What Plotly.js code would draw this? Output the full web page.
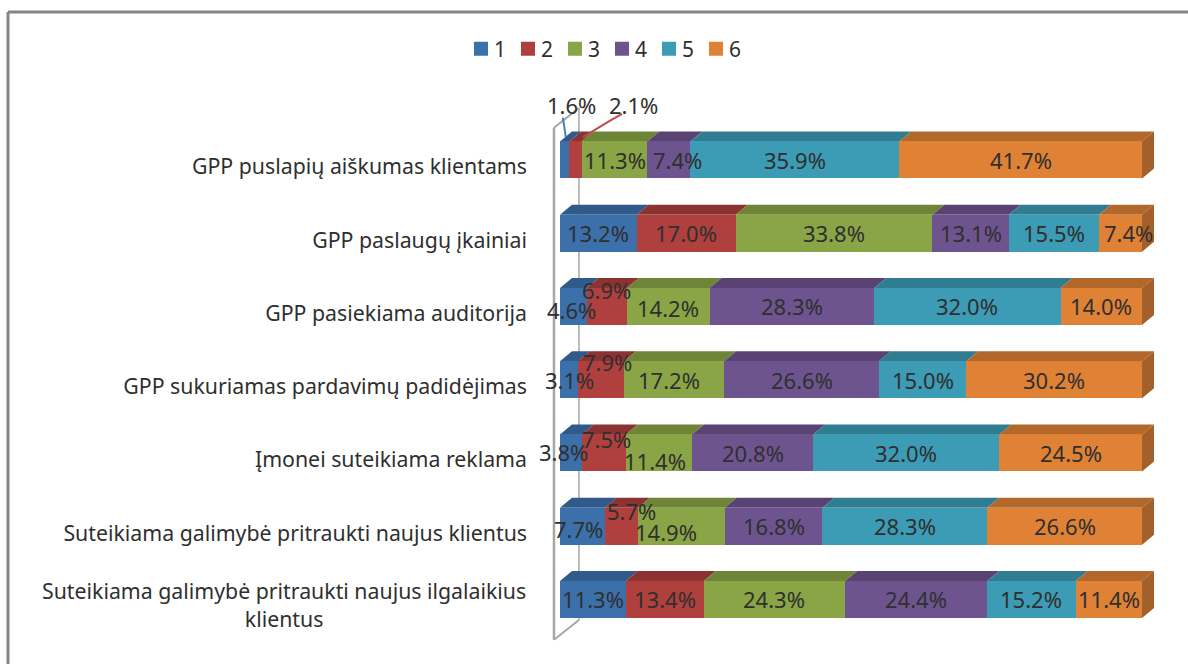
<!DOCTYPE html>
<html><head><meta charset="utf-8">
<script src="https://cdn.plot.ly/plotly-3.0.1.min.js"></script>
<style>html,body{margin:0;padding:0;background:#fff;overflow:hidden}</style>
</head><body><div id="chart" style="width:1188px;height:664px"></div>
<script>
// ---- data -------------------------------------------------------------
const categories = [
  "GPP puslapių aiškumas klientams",
  "GPP paslaugų įkainiai",
  "GPP pasiekiama auditorija",
  "GPP sukuriamas pardavimų padidėjimas",
  "Įmonei suteikiama reklama",
  "Suteikiama galimybė pritraukti naujus klientus",
  "Suteikiama galimybė pritraukti naujus ilgalaikius<br>klientus"
];
const seriesNames = ["1","2","3","4","5","6"];
const series1 = [1.6,13.2,4.6,3.1,3.8,7.7,11.3];
const series2 = [2.1,17.0,6.9,7.9,7.5,5.7,13.4];
const series3 = [11.3,33.8,14.2,17.2,11.4,14.9,24.3];
const series4 = [7.4,13.1,28.3,26.6,20.8,16.8,24.4];
const series5 = [35.9,15.5,32.0,15.0,32.0,28.3,15.2];
const series6 = [41.7,7.4,14.0,30.2,24.5,26.6,11.4];
const allSeries = [series1,series2,series3,series4,series5,series6];

// ---- styling ----------------------------------------------------------
const frontColors = ["#3B70AB","#B0403D","#8AA545","#6E548F","#3C9BB5","#DF8236"];
const topColors   = ["#2F5A8A","#8C3230","#6E8437","#584372","#307C91","#B2682B"];
const sideColor = "#A4602A";
const wallColor = "#A6A6A6";
const frameColor = "#858585";
const textColor = "#2f2f2f";
const fontFamily = "'Noto Sans', sans-serif";

const W = 1188, H = 664;
const plotL = 548, plotR = 1160, plotT = 100, plotB = 650;
const xRange = [-2.06, 103.09];
const yRange = [6.69, -0.819];
const barFrac = 0.505;
const depthX = 2.06, depthY = 0.137;   // bar depth, in axis units
const wallNear = -1.03, wallFar = 3.26; // wall x, in axis units
const wallTop = -0.71, wallBot = 6.28, wallDepthY = 0.27;
const tickLabelDrop = 7 / 73.25;        // category labels sit slightly under the bar centre

// label nudges in px: [series, row, dx, dy]
const labelNudges = [
 [0,0,7,-55],[1,0,58,-55],[2,0,1,0],[3,0,9,0],[4,0,0,0],[5,0,0,0],
 [5,1,8,0],
 [0,2,-2,4],[1,2,0,-16],[2,2,0,2],
 [1,3,6,-18],[2,3,-5,0],
 [0,4,-8,-1],[1,4,3,-14],[2,4,-4,8],
 [0,5,-4,3],[1,5,10,-15],[2,5,-15,6]
];
function nudge(s,r){ const n = labelNudges.find(a=>a[0]===s&&a[1]===r); return n?[n[2],n[3]]:[0,0]; }

const rows = categories.map((_,i)=>i);
const traces = allSeries.map((vals,s)=>({
  type:"bar", orientation:"h", name:seriesNames[s], x:vals, y:rows,
  marker:{color:frontColors[s], line:{width:0}}, hoverinfo:"x+name"
}));

// ---- 3-D faces, derived from the data ---------------------------------
const shapes = [], annotations = [];
const wallLine = (x0,y0,x1,y1,w)=>shapes.push({type:"line",xref:"x",yref:"y",x0,y0,x1,y1,layer:"below",line:{color:wallColor,width:w}});
wallLine(wallFar,wallTop,wallFar,wallBot,1.5);
wallLine(wallNear,wallTop+wallDepthY,wallNear,wallBot+wallDepthY,2.5);
wallLine(wallNear,wallTop+wallDepthY,wallFar,wallTop,2);
wallLine(wallNear,wallBot+wallDepthY,wallFar,wallBot,2);

rows.forEach(r=>{
  const top = r-barFrac/2, bot = r+barFrac/2;
  let cum = 0;
  allSeries.forEach((vals,s)=>{
    const a = cum, b = cum+vals[r]; cum = b;
    shapes.push({type:"path",xref:"x",yref:"y",layer:"below",fillcolor:topColors[s],line:{width:0},
      path:`M${a},${top}L${b},${top}L${b+depthX},${top-depthY}L${a+depthX},${top-depthY}Z`});
    const [dx,dy] = nudge(s,r);
    annotations.push({xref:"x",yref:"y",x:(a+b)/2,y:r,xshift:dx,yshift:-dy,showarrow:false,
      text:vals[r].toFixed(1)+"%",font:{family:fontFamily,size:22,color:textColor},captureevents:false});
  });
  shapes.push({type:"path",xref:"x",yref:"y",layer:"below",fillcolor:sideColor,line:{width:0},
    path:`M${cum},${top}L${cum+depthX},${top-depthY}L${cum+depthX},${bot-depthY}L${cum},${bot}Z`});
});

// leader lines of the two small first-row labels
const lead0 = series1[0]/2, lead1 = series1[0]+series2[0]/2;
const leadTop = -barFrac/2-depthY;
shapes.push({type:"path",xref:"x",yref:"y",layer:"above",line:{color:"#4A7EBB",width:2},
  path:`M${lead0+0.2},${leadTop+0.076}L${lead0-0.3},${leadTop-0.19}`});
shapes.push({type:"path",xref:"x",yref:"y",layer:"above",line:{color:"#BE4B48",width:2},
  path:`M${lead1+1.3},${leadTop+0.076}L${lead1+5.6},${leadTop-0.13}L${lead1+8.0},${leadTop-0.24}`});

// outer frame
const px = v=>(v-plotL)/(plotR-plotL), py = v=>1-(v-plotT)/(plotB-plotT);
const frame = (x0,y0,x1,y1)=>shapes.push({type:"line",xref:"paper",yref:"paper",x0:px(x0),y0:py(y0),x1:px(x1),y1:py(y1),line:{color:frameColor,width:3}});
frame(8,12,W,12);
frame(8,12,8,H);

// last category is centred on two lines, so it is drawn as annotation
const tickLabels = categories.map(c=>c.includes("<br>")?"":c);
annotations.push({xref:"paper",yref:"y",x:px(528),y:6,yshift:-5,xanchor:"right",yanchor:"middle",align:"center",showarrow:false,
  text:categories[6],font:{family:fontFamily,size:21.3,color:textColor}});

Plotly.newPlot("chart",traces,{
  width:W,height:H,
  paper_bgcolor:"#fff",plot_bgcolor:"rgba(0,0,0,0)",
  margin:{l:plotL,r:W-plotR,t:plotT,b:H-plotB,pad:0},
  barmode:"stack",bargap:1-barFrac,
  xaxis:{range:xRange,visible:false,fixedrange:true},
  yaxis:{range:yRange,tickmode:"array",tickvals:rows.map(r=>r+tickLabelDrop),ticktext:tickLabels,showgrid:false,zeroline:false,showline:false,
    ticks:"",ticklabelstandoff:20,tickfont:{family:fontFamily,size:21.3,color:textColor},fixedrange:true,automargin:false},
  showlegend:true,
  legend:{orientation:"h",xref:"container",yref:"container",x:461/W,y:1-49/H,xanchor:"left",yanchor:"middle",
    entrywidth:2,entrywidthmode:"pixels",traceorder:"normal",font:{family:fontFamily,size:21,color:textColor},bgcolor:"rgba(0,0,0,0)"},
  shapes,annotations,
  font:{family:fontFamily}
},{displayModeBar:false,staticPlot:true}).then(gd=>{
  // tighten legend swatch/text gap as in the reference
  gd.querySelectorAll(".legendtext").forEach(t=>t.setAttribute("x",+t.getAttribute("x")-7));
  gd.querySelectorAll(".legendpoints path").forEach(p=>{
    p.setAttribute("transform",(p.getAttribute("transform")||"")+" scale(1.17)");
  });
});
</script></body></html>
